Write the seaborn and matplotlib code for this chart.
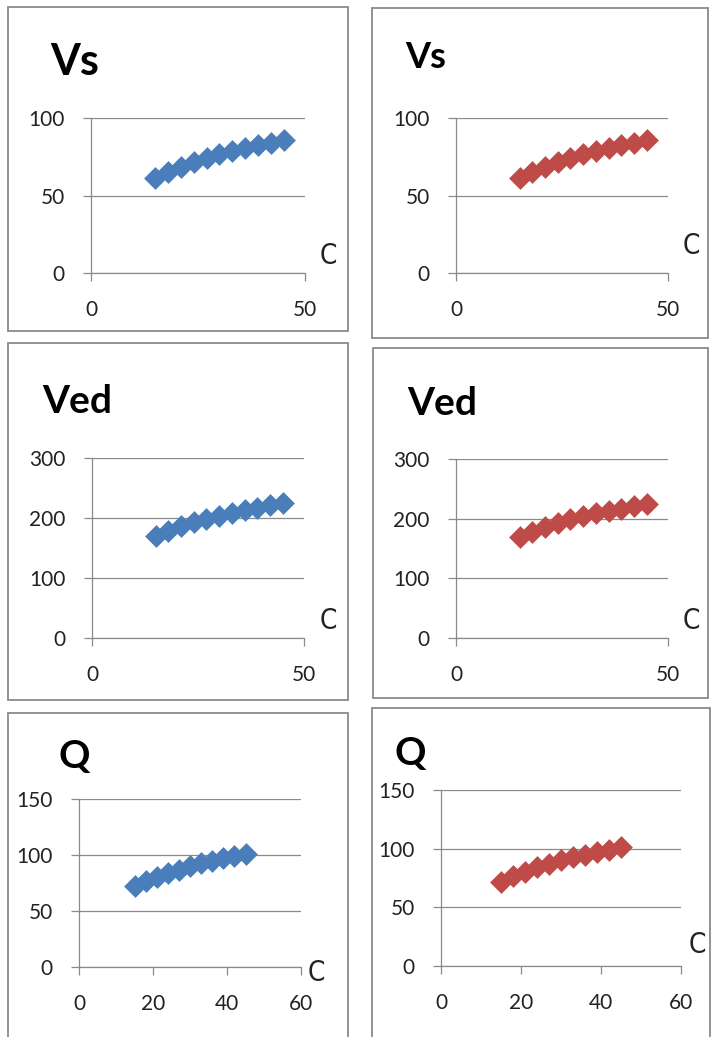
import matplotlib
matplotlib.use("Agg")
import matplotlib.pyplot as plt
from matplotlib.patches import Rectangle
import seaborn as sns
import pandas as pd

# concentration C and the three responses
conc = [15, 18, 21, 24, 27, 30, 33, 36, 39, 42, 45]
vs_vals = [61, 65, 68.5, 71.5, 74, 76.5, 78.5, 80.5, 82.5, 84, 85.5]
ved_vals = [170, 178, 186, 193, 199, 204, 209, 213, 217, 221, 225]
q_vals = [72, 76.5, 80.5, 84, 87, 90, 92.5, 95, 97, 99, 101]

titles = ["Vs", "Ved", "Q"]
y_ticks = [[0, 50, 100], [0, 100, 200, 300], [0, 50, 100, 150]]
x_ticks = [[0, 50], [0, 50], [0, 20, 40, 60]]
colors = ["#4A7EBB", "#BE4B48"]

W, H = 713, 1037
sns.set_theme(style="white")
plt.rcParams["font.family"] = ["Lato", "DejaVu Sans"]

fig = plt.figure(figsize=(W / 100, H / 100), dpi=100)
fig.patch.set_facecolor("white")


def fbox(x0, y0, x1, y1):
    return [x0 / W, 1 - y1 / H, (x1 - x0) / W, (y1 - y0) / H]


# panel frames (pixel boxes)
frames = [[(8, 7, 348, 331), (372, 8, 708, 338)],
          [(8, 343, 348, 700), (373, 348, 708, 698)],
          [(8, 713, 348, 1045), (372, 708, 710, 1045)]]
axboxes = [[(91, 118, 305, 273), (456, 118, 668, 273)],
           [(92, 458, 304, 638), (456, 459, 668, 638)],
           [(79, 799, 301, 967), (441, 790, 681, 966)]]
title_pos = [[(50, 75, 31), (405, 68, 26)],
             [(42, 413, 28), (407, 415, 28)],
             [(58, 768, 28), (395, 765, 28)]]
c_pos = [[(328, 256), (691, 246)],
         [(328, 621), (691, 621)],
         [(316, 973), (697, 945)]]

series = [vs_vals, ved_vals, q_vals]
grey = "#8A8A8A"

for r in range(3):
    df = pd.DataFrame({"C": conc, "val": series[r]})
    for c in range(2):
        x0, y0, x1, y1 = frames[r][c]
        fig.add_artist(Rectangle((x0 / W, 1 - y1 / H), (x1 - x0) / W, (y1 - y0) / H,
                                 transform=fig.transFigure, fill=False,
                                 edgecolor=grey, linewidth=1.3))
        ax = fig.add_axes(fbox(*axboxes[r][c]))
        sns.scatterplot(data=df, x="C", y="val", marker="D", s=135,
                        color=colors[c], linewidth=0, ax=ax, zorder=3,
                        clip_on=False)
        ax.set_xlim(x_ticks[r][0], x_ticks[r][-1])
        ax.set_ylim(y_ticks[r][0], y_ticks[r][-1])
        ax.set_xticks(x_ticks[r])
        ax.set_yticks(y_ticks[r])
        ax.set_xlabel("")
        ax.set_ylabel("")
        ax.yaxis.grid(True, color=grey, linewidth=0.9)
        ax.xaxis.grid(False)
        for s in ["top", "right"]:
            ax.spines[s].set_visible(False)
        for s in ["left", "bottom"]:
            ax.spines[s].set_color(grey)
            ax.spines[s].set_linewidth(0.9)
        ax.tick_params(axis="y", left=True, length=6, width=0.9, color=grey,
                       pad=13, labelsize=15, labelcolor="#222222")
        ax.tick_params(axis="x", bottom=True, length=5.5, width=0.9, color=grey,
                       pad=14, labelsize=15, labelcolor="#222222")
        ax.set_facecolor("none")

        tx, ty, ts = title_pos[r][c]
        fig.text(tx / W, 1 - ty / H, titles[r], fontsize=ts, fontweight="bold",
                 ha="left", va="baseline", color="black")
        cx, cy = c_pos[r][c]
        fig.text(cx / W, 1 - cy / H, "C", fontsize=20, fontweight="light",
                 ha="center", va="center", color="#222222",
                 family=["Liberation Sans Narrow", "DejaVu Sans"],
                 fontstretch="condensed")

fig.savefig("out.png", dpi=100, facecolor="white")
